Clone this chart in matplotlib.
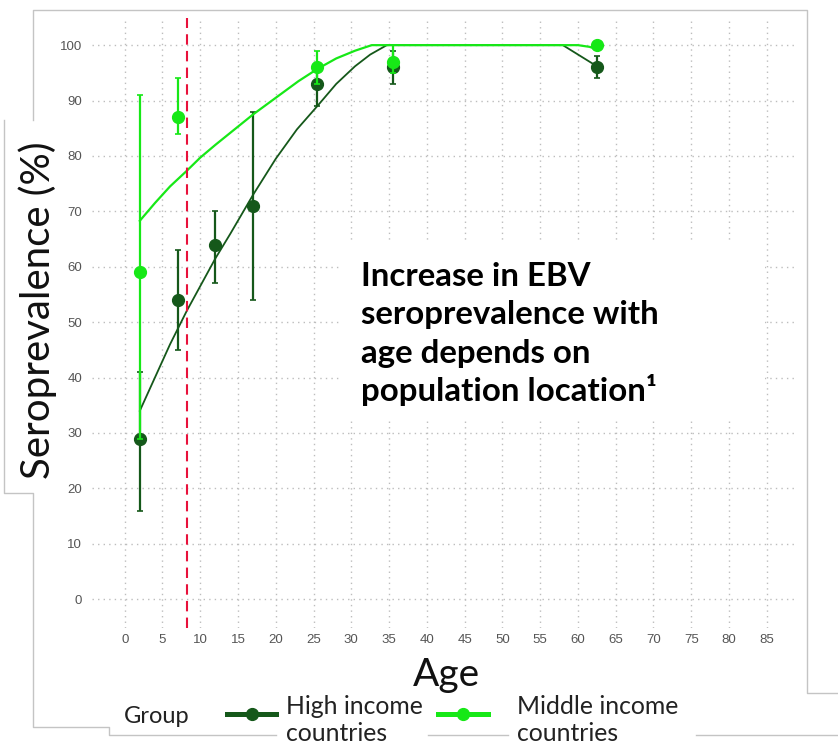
import matplotlib
matplotlib.use("Agg")
import matplotlib.pyplot as plt
from matplotlib.lines import Line2D
from matplotlib.patches import Rectangle

# observed data (age in years, seroprevalence %)
ages_high = [2, 7, 12, 17, 25.5, 35.5, 62.5]
sero_high = [29, 54, 64, 71, 93, 96, 96]
high_lo = [16, 45, 57, 54, 89, 93, 94]
high_hi = [41, 63, 70, 88, 96, 99, 98]

ages_mid = [2, 7, 25.5, 35.5, 62.5]
sero_mid = [59, 87, 96, 97, 100]
mid_lo = [29, 84, 93, 95, 100]
mid_hi = [91, 94, 99, 100, 100]

# fitted curves
fit_high_x = [2, 4, 6, 8.2, 10, 12, 14, 17, 20, 22.8, 25.5, 28, 30.5, 32.5, 34.7, 58, 62.5]
fit_high_y = [34, 40, 46, 52, 56.5, 61.5, 66, 73, 79.5, 84.8, 89, 93, 96.2, 98.3, 100, 100, 96.2]
fit_mid_x = [2, 4, 6, 8.2, 10, 12, 14, 17, 20, 23, 25.5, 28, 30.5, 32.7, 60, 61.5, 62.5]
fit_mid_y = [68.3, 71.5, 74.5, 77.3, 79.7, 82, 84.2, 87.5, 90.5, 93.5, 95.7, 97.6, 99, 100, 100, 99.7, 99.3]

cutoff_age = 8.3

x_ticks = list(range(0, 90, 5))
y_ticks = list(range(0, 101, 10))

note_lines = ["Increase in EBV", "seroprevalence with", "age depends on", "population location\u00b9"]
group_names = ["High income\ncountries", "Middle income\ncountries"]

DARK = "#15581a"
BRIGHT = "#17e817"
RED = "#e8113b"
W, H = 838, 747


def px(x, y):
    return x / W, 1 - y / H


fig = plt.figure(figsize=(W / 100, H / 100), dpi=100)
ax = fig.add_axes([92 / W, (H - 628) / H, (797 - 92) / W, (628 - 18) / H])

# high income
ax.errorbar(ages_high, sero_high,
            yerr=[[s - l for s, l in zip(sero_high, high_lo)], [h - s for s, h in zip(sero_high, high_hi)]],
            fmt="o", color=DARK, ms=8.5, elinewidth=1.6, capsize=2.5, capthick=1.2, zorder=3)
ax.plot(fit_high_x, fit_high_y, color=DARK, lw=1.3, zorder=3)

# middle income
ax.errorbar(ages_mid, sero_mid,
            yerr=[[s - l for s, l in zip(sero_mid, mid_lo)], [h - s for s, h in zip(sero_mid, mid_hi)]],
            fmt="o", color=BRIGHT, ms=8.5, elinewidth=1.6, capsize=2.5, capthick=1.2, zorder=4)
ax.plot(fit_mid_x, fit_mid_y, color=BRIGHT, lw=1.6, zorder=4)

ax.axvline(cutoff_age, color=RED, lw=1.5, ls=(0, (5, 3)), zorder=6)

ax.set_xlim(-4.33, 89.0)
ax.set_ylim(-5.2, 104.9)
ax.set_xticks(x_ticks)
ax.set_yticks(y_ticks)
ax.set_axisbelow(True)
ax.grid(True, ls=(0, (1, 3)), color="#bdbdbd", lw=1.0)
for s in ax.spines.values():
    s.set_visible(False)
ax.tick_params(length=0, pad=4, labelsize=9.5, labelcolor="#555555")
for lab in ax.get_xticklabels() + ax.get_yticklabels():
    lab.set_family("Liberation Sans")
ax.tick_params(axis="y", pad=7)

# white box behind the note (hides the grid)
x0, y0 = px(340, 420)
x1, y1 = px(765, 243)
ax.add_patch(Rectangle((x0, y0), x1 - x0, y1 - y0, transform=fig.transFigure,
                       facecolor="white", edgecolor="none", zorder=1))

for i, line in enumerate(note_lines):
    fig.text(*px(361, 286 + i * 38.3), line, fontsize=23.8, fontweight="bold",
             family="Lato", color="black", ha="left", va="baseline")

# axis titles
fig.text(*px(38, 310), "Seroprevalence (%)", rotation=90, fontsize=29, family="Lato",
         color="#111111", ha="center", va="center")
fig.text(*px(446, 686), "Age", fontsize=28, family="Lato", color="#111111",
         ha="center", va="baseline")

# legend, drawn by hand
fig.text(*px(124, 723), "Group", fontsize=17, family="Lato", color="#222222",
         ha="left", va="baseline")
for (lx0, lx1, tx, col, name) in [(227, 276, 286, DARK, group_names[0]),
                                  (438, 488, 517, BRIGHT, group_names[1])]:
    (a, yy), (b, _) = px(lx0, 714), px(lx1, 714)
    fig.add_artist(Line2D([a, b], [yy, yy], color=col, lw=3.6, transform=fig.transFigure))
    fig.add_artist(Line2D([(a + b) / 2], [yy], color=col, marker="o", ms=8.5,
                          transform=fig.transFigure))
    fig.text(*px(tx, 695), name, fontsize=17.8, family="Lato", color="#222222",
             ha="left", va="top", linespacing=1.2)

# frame pieces of the pasted panels
frames = [
    [(33, 120), (33, 10), (807, 10), (807, 693), (838, 693)],
    [(4, 120), (4, 493), (33, 493), (33, 727), (109, 727), (109, 735), (276, 735)],
    [(428, 735), (508, 735)],
    [(696, 735), (838, 735)],
]
for pts in frames:
    xs = [px(p[0], p[1])[0] for p in pts]
    ys = [px(p[0], p[1])[1] for p in pts]
    fig.add_artist(Line2D(xs, ys, color="#c4c4c4", lw=1.0, transform=fig.transFigure))

fig.savefig("out.png", dpi=100, facecolor="white")
